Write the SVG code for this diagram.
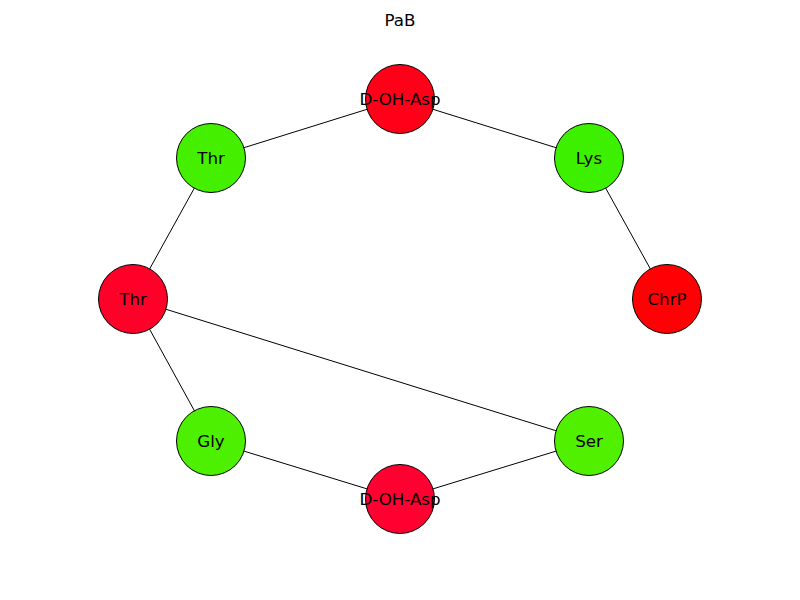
<svg xmlns="http://www.w3.org/2000/svg" width="800" height="600" viewBox="0 0 800 600">
<style>
.n circle{stroke:#000;stroke-width:1}
text{font-family:"DejaVu Sans",sans-serif;font-size:16.67px;text-anchor:middle;dominant-baseline:central;fill:#000}
.e line{stroke:#000;stroke-width:1}
</style>
<rect width="800" height="600" fill="#fff"/>
<text x="400" y="20">PaB</text>
<g class="e" id="edges">
<line x1="400" y1="99" x2="211" y2="158"/>
<line x1="400" y1="99" x2="589" y2="158"/>
<line x1="589" y1="158" x2="667" y2="299"/>
<line x1="211" y1="158" x2="133" y2="299"/>
<line x1="133" y1="299" x2="211" y2="441"/>
<line x1="133" y1="299" x2="589" y2="441"/>
<line x1="211" y1="441" x2="400" y2="499"/>
<line x1="400" y1="499" x2="589" y2="441"/>
</g>
<g class="n" id="n_asp_top"><circle cx="400" cy="99" r="34.5" fill="#ff0018"/><text x="400" y="99">D-OH-Asp</text></g>
<g class="n" id="n_thr1"><circle cx="211" cy="158" r="34.5" fill="#44f000"/><text x="211" y="158">Thr</text></g>
<g class="n" id="n_lys"><circle cx="589" cy="158" r="34.5" fill="#3cf000"/><text x="589" y="158">Lys</text></g>
<g class="n" id="n_thr2"><circle cx="133" cy="299" r="34.5" fill="#ff0028"/><text x="133" y="299">Thr</text></g>
<g class="n" id="n_chrp"><circle cx="667" cy="299" r="34.5" fill="#ff0004"/><text x="667" y="299">ChrP</text></g>
<g class="n" id="n_gly"><circle cx="211" cy="441" r="34.5" fill="#4cf000"/><text x="211" y="441">Gly</text></g>
<g class="n" id="n_ser"><circle cx="589" cy="441" r="34.5" fill="#50f000"/><text x="589" y="441">Ser</text></g>
<g class="n" id="n_asp_bot"><circle cx="400" cy="499" r="34.5" fill="#ff0030"/><text x="400" y="499">D-OH-Asp</text></g>
</svg>
